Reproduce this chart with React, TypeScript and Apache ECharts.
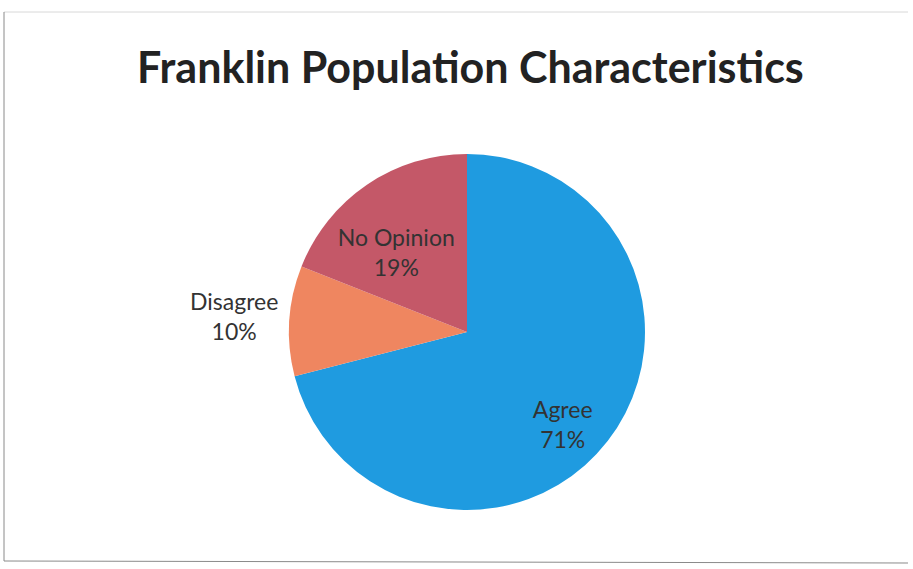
import React, { useEffect, useRef } from "react";
import * as echarts from "echarts";

const titleText = "Franklin Population Characteristics";
const categories = ["Agree", "Disagree", "No Opinion"];
const values = [71, 10, 19];
const colors = ["#1f9be0", "#ef8660", "#c45868"];
// label nudges relative to the default inside-label spot (dx, dy)
const labelShiftX = [23, -141, -19];
const labelShiftY = [36, -10, -4];

export default function App() {
  const ref = useRef<HTMLDivElement>(null);
  useEffect(() => {
    if (!ref.current) return;
    const chart = echarts.init(ref.current, undefined, { renderer: "svg" });
    chart.setOption({
      animation: false,
      backgroundColor: "#ffffff",
      title: {
        text: titleText,
        left: 132,
        top: 40,
        textStyle: {
          fontFamily: "Lato",
          fontWeight: "bold",
          fontSize: 43,
          color: "#222222",
        },
      },
      graphic: [
        { type: "line", shape: { x1: 4, y1: 12, x2: 908, y2: 12 }, style: { stroke: "#d8d8d8", lineWidth: 1 } },
        { type: "line", shape: { x1: 4, y1: 12, x2: 4, y2: 561 }, style: { stroke: "#8a8a8a", lineWidth: 1 } },
        { type: "line", shape: { x1: 4, y1: 561, x2: 908, y2: 563 }, style: { stroke: "#8a8a8a", lineWidth: 1 } },
      ],
      series: [
        {
          type: "pie",
          center: [467, 332],
          radius: 178,
          startAngle: 90,
          clockwise: true,
          avoidLabelOverlap: false,
          label: {
            show: true,
            position: "inside",
            formatter: "{b}\n{d}%",
            fontFamily: "Lato",
            fontSize: 23,
            lineHeight: 30,
            color: "#333333",
          },
          labelLine: { show: false },
          labelLayout: (params: any) => ({
            dx: labelShiftX[params.dataIndex],
            dy: labelShiftY[params.dataIndex],
          }),
          itemStyle: { borderWidth: 0 },
          emphasis: { disabled: true },
          data: categories.map((c, i) => ({
            name: c,
            value: values[i],
            itemStyle: { color: colors[i] },
          })),
        },
      ],
    });
    return () => chart.dispose();
  }, []);
  return (
    <div
      ref={ref}
      style={{ position: "fixed", left: 0, top: 0, width: 913, height: 569 }}
    />
  );
}
